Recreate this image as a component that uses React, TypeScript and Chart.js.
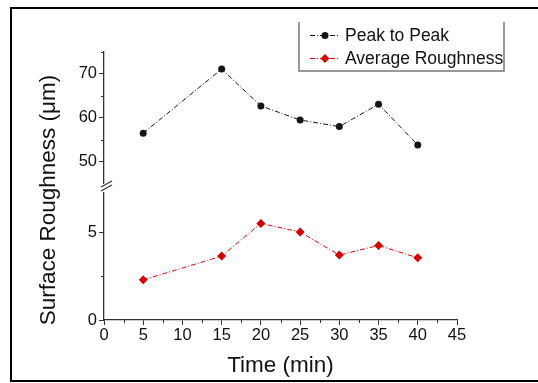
import { useEffect, useRef } from "react";
import { Chart, registerables } from "chart.js";

Chart.register(...registerables);

const times = [5, 15, 20, 25, 30, 35, 40];
const peakToPeak = [56.5, 71.1, 62.7, 59.5, 58.0, 63.1, 53.8];
const averageRoughness = [2.28, 3.63, 5.49, 5.0, 3.69, 4.24, 3.53];
const seriesLabels = ["Peak to Peak", "Average Roughness"];
const xTicks = [0, 5, 10, 15, 20, 25, 30, 35, 40, 45];
const xMinorTicks = [2.5, 7.5, 12.5, 17.5, 22.5, 27.5, 32.5, 37.5, 42.5];
const yTopTicks = [50, 60, 70];
const yTopMinorTicks = [55, 65, 75];
const yBottomTicks = [0, 5];
const yBottomMinorTicks = [2.5];
const xTitle = "Time (min)";
const yTitle = "Surface Roughness (μm)";

const FONT = "'Liberation Sans', Arial, sans-serif";
const AXIS = "#333";
const TEXT = "#111";
const BLACK = "#151515";
const RED = "#d40000";
const DASH = [5, 2, 1, 2];

function drawMarker(ctx: CanvasRenderingContext2D, style: string, x: number, y: number, r: number, color: string) {
  ctx.save();
  ctx.fillStyle = color;
  ctx.beginPath();
  if (style === "circle") {
    ctx.arc(x, y, r, 0, Math.PI * 2);
  } else {
    ctx.moveTo(x, y - r);
    ctx.lineTo(x + r, y);
    ctx.lineTo(x, y + r);
    ctx.lineTo(x - r, y);
    ctx.closePath();
  }
  ctx.fill();
  ctx.restore();
}

const decorPlugin = {
  id: "decor",
  afterDraw(chart: any) {
    const ctx: CanvasRenderingContext2D = chart.ctx;
    const sx = chart.scales.x;
    const yT = chart.scales.yTop;
    const yB = chart.scales.yBot;
    ctx.save();
    // minor ticks
    ctx.strokeStyle = AXIS;
    ctx.lineWidth = 1;
    ctx.beginPath();
    xMinorTicks.forEach((v) => {
      const px = Math.round(sx.getPixelForValue(v)) + 0.5;
      ctx.moveTo(px, sx.top);
      ctx.lineTo(px, sx.top + 3);
    });
    yTopMinorTicks.forEach((v) => {
      const py = Math.round(yT.getPixelForValue(v)) + 0.5;
      ctx.moveTo(yT.right, py);
      ctx.lineTo(yT.right - 3, py);
    });
    yBottomMinorTicks.forEach((v) => {
      const py = Math.round(yB.getPixelForValue(v)) + 0.5;
      ctx.moveTo(yB.right, py);
      ctx.lineTo(yB.right - 3, py);
    });
    ctx.stroke();

    // axis break
    const bx = yB.right;
    const by = yB.top;
    ctx.fillStyle = "#fff";
    ctx.fillRect(bx - 3, by - 4, 6, 8);
    ctx.strokeStyle = AXIS;
    ctx.lineWidth = 1.2;
    ctx.beginPath();
    ctx.moveTo(bx - 3, by - 1);
    ctx.lineTo(bx + 8, by - 7);
    ctx.moveTo(bx - 3, by + 3);
    ctx.lineTo(bx + 8, by - 3);
    ctx.stroke();

    // y title
    ctx.fillStyle = TEXT;
    ctx.font = `22.5px ${FONT}`;
    ctx.textAlign = "center";
    ctx.textBaseline = "middle";
    ctx.translate(49, 200);
    ctx.rotate(-Math.PI / 2);
    ctx.fillText(yTitle, 0, 0);
    ctx.restore();

    // legend
    ctx.save();
    ctx.strokeStyle = "#777";
    ctx.lineWidth = 1.5;
    ctx.beginPath();
    ctx.moveTo(299, 22);
    ctx.lineTo(299, 71);
    ctx.lineTo(504, 71);
    ctx.lineTo(504, 22);
    ctx.stroke();
    chart.data.datasets.forEach((ds: any, i: number) => {
      const y = 35 + 23 * i;
      ctx.save();
      ctx.strokeStyle = ds.borderColor;
      ctx.lineWidth = 1;
      ctx.setLineDash(DASH);
      ctx.beginPath();
      ctx.moveTo(310, y + 0.5);
      ctx.lineTo(340, y + 0.5);
      ctx.stroke();
      ctx.restore();
      drawMarker(ctx, ds.pointStyle, 325, y + 0.5, ds.pointRadius, ds.pointBackgroundColor);
      ctx.fillStyle = TEXT;
      ctx.font = `17.5px ${FONT}`;
      ctx.textAlign = "left";
      ctx.textBaseline = "middle";
      ctx.fillText(ds.label, 345, y + 1);
    });
    ctx.restore();
  },
};

export default function App() {
  const ref = useRef<HTMLCanvasElement | null>(null);

  useEffect(() => {
    if (!ref.current) return;
    const chart = new Chart(ref.current, {
      type: "line",
      data: {
        datasets: [
          {
            label: seriesLabels[0],
            data: times.map((t, i) => ({ x: t, y: peakToPeak[i] })),
            yAxisID: "yTop",
            borderColor: BLACK,
            borderWidth: 1,
            borderDash: DASH,
            pointStyle: "circle",
            pointRadius: 3.5,
            pointBackgroundColor: BLACK,
            pointBorderColor: BLACK,
            pointBorderWidth: 0,
            tension: 0,
          },
          {
            label: seriesLabels[1],
            data: times.map((t, i) => ({ x: t, y: averageRoughness[i] })),
            yAxisID: "yBot",
            borderColor: RED,
            borderWidth: 1,
            borderDash: DASH,
            pointStyle: "rectRot",
            pointRadius: 4.5,
            pointBackgroundColor: RED,
            pointBorderColor: RED,
            pointBorderWidth: 0,
            tension: 0,
          },
        ],
      },
      options: {
        animation: false,
        responsive: false,
        devicePixelRatio: 1,
        layout: { padding: { left: 0, top: 52, right: 81, bottom: 0 } },
        plugins: { legend: { display: false }, tooltip: { enabled: false } },
        scales: {
          x: {
            type: "linear",
            position: "bottom",
            min: 0,
            max: 45,
            afterBuildTicks: (s: any) => {
              s.ticks = xTicks.map((v) => ({ value: v }));
            },
            afterFit: (s: any) => {
              s.height = 63;
            },
            grid: { drawOnChartArea: false, tickLength: 5, color: AXIS, tickWidth: 1 },
            border: { color: AXIS, width: 1.3 },
            ticks: { font: { family: FONT, size: 16.5 }, color: TEXT, padding: 1, maxRotation: 0, autoSkip: false },
            title: { display: true, text: xTitle, color: TEXT, font: { family: FONT, size: 22.5 }, padding: { top: 0, bottom: 4 } },
          },
          yBot: {
            type: "linear",
            position: "left",
            stack: "y",
            stackWeight: 132,
            min: 0,
            max: 7.5,
            afterBuildTicks: (s: any) => {
              s.ticks = yBottomTicks.map((v) => ({ value: v }));
            },
            afterFit: (s: any) => {
              s.width = 104;
            },
            grid: { drawOnChartArea: false, tickLength: 5, color: AXIS, tickWidth: 1 },
            border: { color: AXIS, width: 1.3 },
            ticks: { font: { family: FONT, size: 16.5 }, color: TEXT, padding: 2 },
          },
          yTop: {
            type: "linear",
            position: "left",
            stack: "y",
            stackWeight: 136,
            min: 44,
            max: 75,
            afterBuildTicks: (s: any) => {
              s.ticks = yTopTicks.map((v) => ({ value: v }));
            },
            afterFit: (s: any) => {
              s.width = 104;
            },
            grid: { drawOnChartArea: false, tickLength: 5, color: AXIS, tickWidth: 1 },
            border: { color: AXIS, width: 1.3 },
            ticks: { font: { family: FONT, size: 16.5 }, color: TEXT, padding: 2 },
          },
        },
      },
      plugins: [decorPlugin],
    } as any);
    return () => chart.destroy();
  }, []);

  return (
    <div style={{ position: "fixed", left: 0, top: 0, width: 538, height: 383, background: "#fff" }}>
      <canvas ref={ref} width={538} height={383} style={{ position: "absolute", left: 0, top: 0, width: 538, height: 383 }} />
      <div
        style={{
          position: "absolute",
          left: 10,
          top: 7,
          width: 528,
          height: 371,
          borderTop: "2px solid #000",
          borderLeft: "2px solid #000",
          borderBottom: "2px solid #000",
          pointerEvents: "none",
        }}
      />
    </div>
  );
}
